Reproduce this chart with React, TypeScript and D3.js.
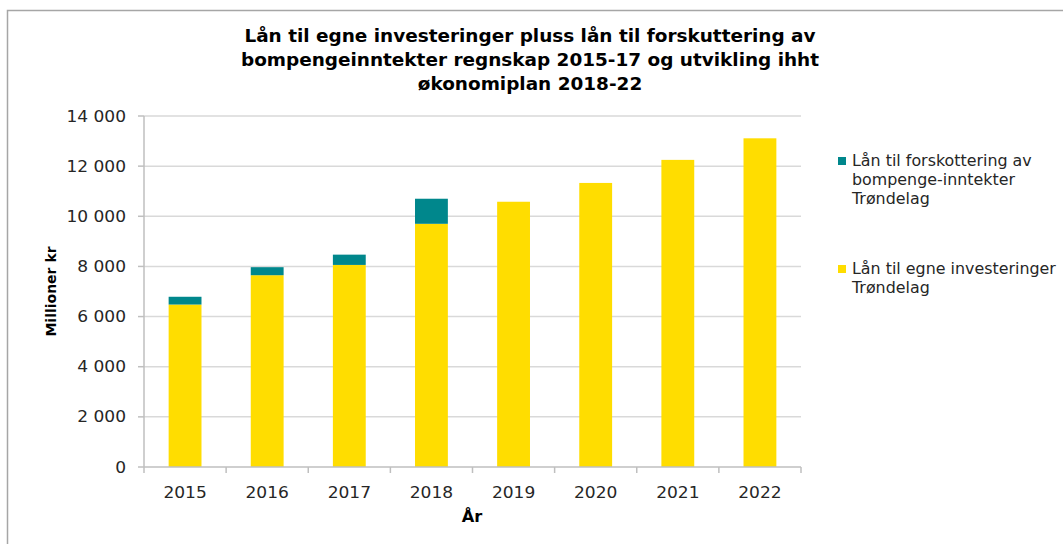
import React from "react";
import * as d3 from "d3";

const years = ["2015", "2016", "2017", "2018", "2019", "2020", "2021", "2022"];
// Lån til egne investeringer Trøndelag
const egne = [6480, 7650, 8060, 9700, 10580, 11330, 12250, 13110];
// Lån til forskottering av bompenge-inntekter Trøndelag
const forskottering = [310, 320, 410, 1000, 0, 0, 0, 0];
const yTicks = [0, 2000, 4000, 6000, 8000, 10000, 12000, 14000];

const titleLines = [
  "Lån til egne investeringer pluss lån til forskuttering av",
  "bompengeinntekter regnskap 2015-17 og utvikling ihht",
  "økonomiplan 2018-22",
];
const legendTeal = ["Lån til forskottering av", "bompenge-inntekter", "Trøndelag"];
const legendYellow = ["Lån til egne investeringer", "Trøndelag"];

const YELLOW = "#FFDD00";
const TEAL = "#00878C";
const TEXT = "#262626";
const FONT = "'DejaVu Sans', Verdana, sans-serif";

const W = 1063;
const H = 544;
const plot = { left: 144, right: 801, top: 116, bottom: 467 };

const fmt = (v: number) => d3.format(",")(v).replace(/,/g, " ");

// the original picture is a little stretched sideways, so text gets a scaleX
const Txt = ({ x, y, sx = 1, children, ...rest }: any) => (
  <text transform={`translate(${x},${y}) scale(${sx},1)`} {...rest}>
    {children}
  </text>
);

export default function App() {
  const x = d3.scaleBand().domain(years).range([plot.left, plot.right]).paddingInner(0.6).paddingOuter(0.3);
  const y = d3.scaleLinear().domain([0, 14000]).range([plot.bottom, plot.top]);
  const band = (plot.right - plot.left) / years.length;

  return (
    <svg width={W} height={H} style={{ position: "absolute", left: 0, top: 0, background: "#fff" }} fontFamily={FONT}>
      <rect x={0} y={0} width={W} height={H} fill="#fff" />
      {/* chart frame */}
      <path d={`M7.5,${H + 2} V10.5 H${W + 2}`} fill="none" stroke="#a6a6a6" strokeWidth={1.5} />

      {titleLines.map((t, i) => (
        <Txt key={i} x={530} y={42 + i * 24} sx={1.085} textAnchor="middle" fontSize={17} fontWeight="bold" fill="#000">
          {t}
        </Txt>
      ))}

      {/* gridlines */}
      {yTicks.slice(1).map((t) => (
        <line key={t} x1={plot.left} x2={plot.right} y1={y(t)} y2={y(t)} stroke="#d9d9d9" strokeWidth={1.5} />
      ))}

      {/* bars */}
      {years.map((yr, i) => (
        <g key={yr}>
          <rect x={x(yr)} width={x.bandwidth()} y={y(egne[i])} height={y(0) - y(egne[i])} fill={YELLOW} />
          {forskottering[i] > 0 && (
            <rect
              x={x(yr)}
              width={x.bandwidth()}
              y={y(egne[i] + forskottering[i])}
              height={y(egne[i]) - y(egne[i] + forskottering[i])}
              fill={TEAL}
            />
          )}
        </g>
      ))}

      {/* y axis */}
      <line x1={plot.left} x2={plot.left} y1={plot.top} y2={plot.bottom} stroke="#bfbfbf" strokeWidth={1.5} />
      {yTicks.map((t) => (
        <g key={t}>
          <line x1={plot.left - 6} x2={plot.left} y1={y(t)} y2={y(t)} stroke="#bfbfbf" strokeWidth={1.5} />
          <Txt x={126} y={y(t) + 5.5} sx={1.1} textAnchor="end" fontSize={15.5} fill={TEXT}>
            {fmt(t)}
          </Txt>
        </g>
      ))}

      {/* x axis */}
      <line x1={plot.left} x2={plot.right} y1={plot.bottom} y2={plot.bottom} stroke="#bfbfbf" strokeWidth={1.5} />
      {d3.range(years.length + 1).map((i) => (
        <line
          key={i}
          x1={plot.left + i * band}
          x2={plot.left + i * band}
          y1={plot.bottom}
          y2={plot.bottom + 6}
          stroke="#bfbfbf"
          strokeWidth={1.5}
        />
      ))}
      {years.map((yr) => (
        <Txt key={yr} x={(x(yr) as number) + x.bandwidth() / 2} y={498} sx={1.1} textAnchor="middle" fontSize={15.5} fill={TEXT}>
          {yr}
        </Txt>
      ))}

      <Txt x={472} y={522} sx={1.08} textAnchor="middle" fontSize={15} fontWeight="bold" fill="#000">
        År
      </Txt>
      <text
        transform={`translate(56, ${(plot.top + plot.bottom) / 2}) rotate(-90)`}
        textAnchor="middle"
        fontSize={14}
        fontWeight="bold"
        fill="#000"
      >
        Millioner kr
      </text>

      {/* legend */}
      <rect x={838} y={157} width={8} height={8} fill={TEAL} />
      {legendTeal.map((t, i) => (
        <Txt key={t} x={852} y={166 + i * 19} sx={1.06} fontSize={15} fill={TEXT}>
          {t}
        </Txt>
      ))}
      <rect x={838} y={265} width={8} height={8} fill={YELLOW} />
      {legendYellow.map((t, i) => (
        <Txt key={t} x={852} y={274 + i * 19} sx={1.06} fontSize={15} fill={TEXT}>
          {t}
        </Txt>
      ))}
    </svg>
  );
}
